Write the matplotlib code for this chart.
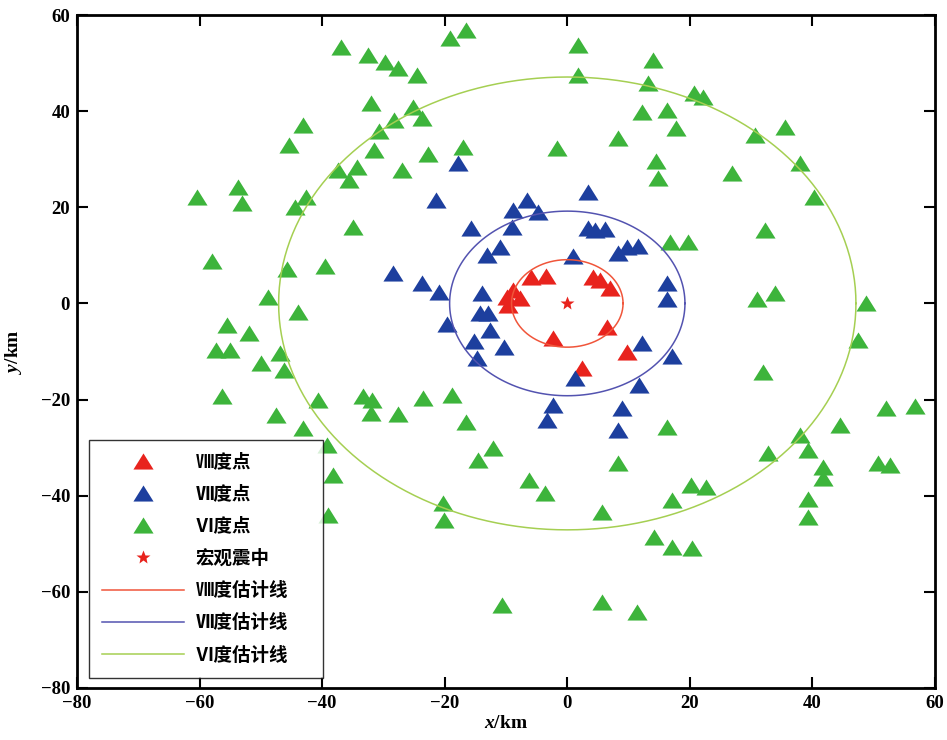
import numpy as np
import matplotlib
matplotlib.use("Agg")
import matplotlib.pyplot as plt

plt.rcParams['axes.unicode_minus'] = True
plt.rcParams['mathtext.fontset'] = 'custom'
plt.rcParams['mathtext.it'] = 'Liberation Serif:italic:bold'
plt.rcParams['mathtext.rm'] = 'Liberation Serif:bold'

# ---- data (km) ----
red_x = [-6.0, -3.4, 4.2, 5.4, 7.0, -9.8, -8.8, -7.7, -9.6, 6.5, -2.3, 9.8, 2.4]
red_y = [5.5, 5.7, 5.5, 4.9, 3.2, 1.4, 2.8, 1.1, -0.3, -4.9, -7.2, -10.1, -13.4]

blue_x = [-17.9, -21.4, -6.5, -8.8, -4.7, 3.4, -9.0, -15.7, 3.3, 4.6, 6.2, -10.9, -13.1,
          1.0, 8.2, 9.8, 11.6, -28.4, -23.7, -20.9, -13.9, 16.3, 16.3, -14.2, -12.9,
          -19.7, -12.6, -15.3, -10.4, -14.8, 12.2, 17.1, 1.3, 11.7, -2.3, -3.3, 9.0, 8.3]
blue_y = [29.2, 21.5, 21.5, 19.4, 19.0, 23.2, 15.9, 15.7, 15.7, 15.3, 15.5, 11.7, 10.1,
          9.9, 10.5, 11.7, 12.0, 6.3, 4.3, 2.4, 2.2, 4.3, 0.9, -2.0, -2.0,
          -4.3, -5.5, -7.8, -9.0, -11.3, -8.2, -10.9, -15.5, -16.9, -21.1, -24.2, -21.7, -26.3]

green_x = [-37.0, -32.5, -29.7, -27.7, -24.6, -19.1, -16.6, -32.1, -25.1, -23.7, -28.2,
           -30.8, -31.6, -22.7, -17.0, -26.9, -37.4, -34.3, -35.6, -43.2, -45.4, -60.4,
           -53.7, -53.0, -44.5, -42.7, -34.9, -57.9, -45.7, -39.5, -48.8, -43.9, -55.6,
           -52.0, -57.3, -55.1, -46.8, -49.9, -46.3, -56.3, -40.6, -47.6, -43.1, -33.4,
           -31.8, -32.0, -27.6, -23.5, -18.8, -16.5, -39.2, -38.2, -39.0, -12.2, -14.5,
           -20.2, -20.1, -6.2, -3.6, -10.6, 5.7, 5.7, 11.3, 8.3, 16.3, 20.2, 22.7, 17.1,
           14.2, 17.1, 20.4, 1.8, 1.8, 14.0, 13.2, 20.6, 22.2, 12.2, 16.3, 17.8, 8.3,
           -1.6, 14.4, 14.8, 26.9, 30.7, 35.6, 38.0, 40.3, 32.3, 16.8, 19.7, 31.0, 33.9,
           48.8, 47.5, 32.0, 52.0, 56.8, 44.5, 38.0, 39.2, 32.8, 41.8, 41.8, 50.7, 52.7,
           39.3, 39.2]
green_y = [53.3, 51.7, 50.2, 49.0, 47.5, 55.2, 56.9, 41.7, 40.9, 38.6, 38.1,
           35.8, 31.9, 31.1, 32.5, 27.8, 27.8, 28.4, 25.7, 37.1, 32.9, 22.1,
           24.2, 20.9, 20.1, 22.1, 15.9, 8.8, 7.2, 7.8, 1.4, -1.8, -4.5,
           -6.1, -9.7, -9.7, -10.3, -12.4, -13.8, -19.2, -20.1, -23.2, -25.9, -19.2,
           -20.1, -22.8, -23.0, -19.6, -19.0, -24.6, -29.4, -35.7, -44.0, -30.0, -32.5,
           -41.5, -45.0, -36.7, -39.4, -62.7, -43.3, -62.1, -64.1, -33.2, -25.7, -37.7, -38.1, -40.9,
           -48.5, -50.6, -50.8, 53.7, 47.5, 50.6, 45.8, 43.7, 42.9, 39.8, 40.2, 36.5, 34.4,
           32.3, 29.6, 26.1, 27.1, 35.0, 36.7, 29.2, 22.1, 15.3, 12.8, 12.8, 0.9, 2.2,
           0.1, -7.6, -14.2, -21.7, -21.3, -25.3, -27.3, -30.5, -31.1, -34.0, -36.3, -33.2, -33.6,
           -40.6, -44.4]

epicenter = (0.0, 0.0)
# estimated isoseismal radii (km)
radius_VIII = 9.1
radius_VII = 19.2
radius_VI = 47.1

labels = ['Ⅷ度点', 'Ⅶ度点', 'Ⅵ度点', '宏观震中', 'Ⅷ度估计线', 'Ⅶ度估计线', 'Ⅵ度估计线']
xticks = [-80, -60, -40, -20, 0, 20, 40, 60]
yticks = [-80, -60, -40, -20, 0, 20, 40, 60]

c_red, c_blue, c_green = '#e8231d', '#1d3f9e', '#3db43b'
l_red, l_blue, l_green = '#f0553a', '#5353b0', '#a5cf52'

tri = [(-1, -0.8), (1, -0.8), (0, 0.8), (-1, -0.8)]

fig = plt.figure(figsize=(9.47, 7.40), dpi=100)
ax = fig.add_axes([77/947, 52/740, 858/947, 673/740])

ms = 14.5
ax.plot(red_x, red_y, linestyle='none', marker=tri, ms=ms, color=c_red, mec='none', label=labels[0])
ax.plot(blue_x, blue_y, linestyle='none', marker=tri, ms=ms, color=c_blue, mec='none', label=labels[1])
ax.plot(green_x, green_y, linestyle='none', marker=tri, ms=ms, color=c_green, mec='none', label=labels[2])
ax.plot([epicenter[0]], [epicenter[1]], linestyle='none', marker='*', ms=10, color=c_red, mec='none', label=labels[3])

theta = np.linspace(0, 2*np.pi, 181)
for r, col, lab in [(radius_VIII, l_red, labels[4]), (radius_VII, l_blue, labels[5]), (radius_VI, l_green, labels[6])]:
    ax.plot(epicenter[0] + r*np.cos(theta), epicenter[1] + r*np.sin(theta), color=col, lw=1.1, label=lab)

ax.set_xlim(-80, 60)
ax.set_ylim(-80, 60)
ax.set_xticks(xticks)
ax.set_yticks(yticks)
ax.tick_params(direction='in', top=True, right=True, length=8, width=1.5, labelsize=13.5, pad=5)
for lab in ax.get_xticklabels() + ax.get_yticklabels():
    lab.set_fontfamily('Liberation Serif')
    lab.set_fontweight('bold')
for s in ax.spines.values():
    s.set_linewidth(2.0)

ax.set_xlabel(r'$x$/km', fontfamily='Liberation Serif', fontweight='bold', fontsize=14, labelpad=2)
ax.set_ylabel(r'$y$/km', fontfamily='Liberation Serif', fontweight='bold', fontsize=14, labelpad=12)

leg = ax.legend(loc='lower left', bbox_to_anchor=(0.014, 0.015, 0.2727, 0.35), mode='expand',
                frameon=True, fancybox=False,
                edgecolor='black', handlelength=4.4, handletextpad=0.65, labelspacing=0.77,
                borderpad=0.72, borderaxespad=0,
                prop={'family': ['Liberation Serif', 'Noto Sans CJK SC'], 'weight': 'bold', 'size': 13.3})
leg.get_frame().set_linewidth(1.0)

fig.savefig('out.png', dpi=100, facecolor='white')
